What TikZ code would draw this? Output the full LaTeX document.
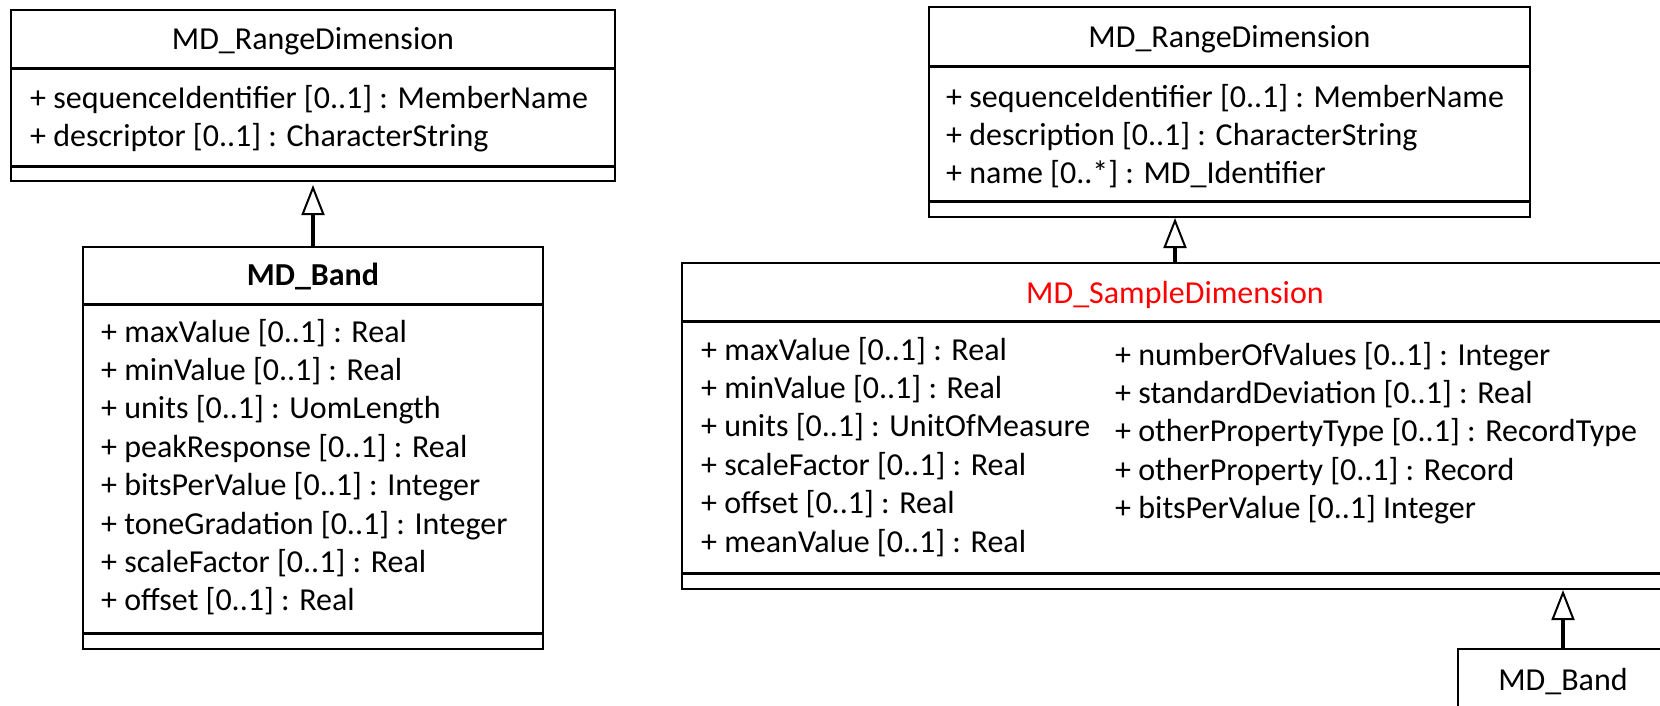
\documentclass[tikz,border=0pt]{standalone}
\usepackage{fontspec}
\setmainfont{Carlito}
\usetikzlibrary{arrows.meta}

\begin{document}
\begin{tikzpicture}[x=1pt,y=-1pt,
  classbox/.style={draw=black, line width=2pt, fill=white, inner sep=0pt},
  sep/.style={draw=black, line width=3pt},
  attr/.style={anchor=base west, inner sep=0pt, font=\fontsize{32}{38}\selectfont},
  cname/.style={anchor=base, inner sep=0pt, font=\fontsize{32}{38}\selectfont},
  gen/.style={draw=black, line width=3.5pt,
    -{Triangle[open, length=30pt, width=23pt, line width=2pt]}}]
\clip (0,0) rectangle (1660,705);
\fill[white] (0,0) rectangle (1660,705);

% ---------- left: MD_RangeDimension ----------
\node[classbox, minimum width=604pt, minimum height=171pt] (rdL) at (313,95.5) {};
\draw[sep] (rdL.west |- 0,68) -- (rdL.east |- 0,68);
\draw[sep] (rdL.west |- 0,166) -- (rdL.east |- 0,166);
\node[cname] (rdLt) at (313,49) {MD\_RangeDimension};
\node[attr] (rdLa1) at (30,108) {+ sequenceIdentifier [0..1] : MemberName};
\node[attr] (rdLa2) at (30,146) {+ descriptor [0..1] : CharacterString};

% ---------- left: MD_Band ----------
\node[classbox, minimum width=460pt, minimum height=402pt] (bandL) at (313,448) {};
\draw[sep] (bandL.west |- 0,304) -- (bandL.east |- 0,304);
\draw[sep] (bandL.west |- 0,633) -- (bandL.east |- 0,633);
\node[cname, font=\fontsize{32}{38}\selectfont\bfseries] (bandLt) at (313,285) {MD\_Band};
\node[attr] (bl1) at (101,342.0) {+ maxValue [0..1] : Real};
\node[attr] (bl2) at (101,380.4) {+ minValue [0..1] : Real};
\node[attr] (bl3) at (101,418.8) {+ units [0..1] : UomLength};
\node[attr] (bl4) at (101,457.2) {+ peakResponse [0..1] : Real};
\node[attr] (bl5) at (101,495.6) {+ bitsPerValue [0..1] : Integer};
\node[attr] (bl6) at (101,534.0) {+ toneGradation [0..1] : Integer};
\node[attr] (bl7) at (101,572.4) {+ scaleFactor [0..1] : Real};
\node[attr] (bl8) at (101,610.8) {+ offset [0..1] : Real};

\draw[gen, shorten >=3pt] (bandL.north) -- (rdL.south);

% ---------- right: MD_RangeDimension ----------
\node[classbox, minimum width=601pt, minimum height=210pt] (rdR) at (1229.5,112) {};
\draw[sep] (rdR.west |- 0,66) -- (rdR.east |- 0,66);
\draw[sep] (rdR.west |- 0,201) -- (rdR.east |- 0,201);
\node[cname] (rdRt) at (1229.5,47) {MD\_RangeDimension};
\node[attr] (rdRa1) at (946,107) {+ sequenceIdentifier [0..1] : MemberName};
\node[attr] (rdRa2) at (946,145) {+ description [0..1] : CharacterString};
\node[attr] (rdRa3) at (946,183) {+ name [0..*] : MD\_Identifier};

% ---------- right: MD_SampleDimension ----------
\node[classbox, minimum width=1018pt, minimum height=326pt] (sd) at (1191,426) {};
\draw[sep] (sd.west |- 0,321) -- (sd.east |- 0,321);
\draw[sep] (sd.west |- 0,573) -- (sd.east |- 0,573);
\coordinate (sdtop) at (1175,263);
\node[cname, text=red] (sdt) at (1175,303) {MD\_SampleDimension};
\node[attr] (sa1) at (701,360.0) {+ maxValue [0..1] : Real};
\node[attr] (sa2) at (701,398.4) {+ minValue [0..1] : Real};
\node[attr] (sa3) at (701,436.8) {+ units [0..1] : UnitOfMeasure};
\node[attr] (sa4) at (701,475.2) {+ scaleFactor [0..1] : Real};
\node[attr] (sa5) at (701,513.6) {+ offset [0..1] : Real};
\node[attr] (sa6) at (701,552.0) {+ meanValue [0..1] : Real};
\node[attr] (sb1) at (1115,365.0) {+ numberOfValues [0..1] : Integer};
\node[attr] (sb2) at (1115,403.4) {+ standardDeviation [0..1] : Real};
\node[attr] (sb3) at (1115,441.8) {+ otherPropertyType [0..1] : RecordType};
\node[attr] (sb4) at (1115,480.2) {+ otherProperty [0..1] : Record};
\node[attr] (sb5) at (1115,518.6) {+ bitsPerValue [0..1] Integer};

\draw[gen] (sdtop) -- (rdR.south -| sdtop);

% ---------- right: MD_Band ----------
\node[classbox, minimum width=242pt, minimum height=112pt] (bandR) at (1579,705) {};
\coordinate (bandRtop) at (1563,649);
\node[cname] (bandRt) at (1563,690) {MD\_Band};
\draw[gen] (bandRtop) -- (sd.south -| bandRtop);
\end{tikzpicture}
\end{document}
